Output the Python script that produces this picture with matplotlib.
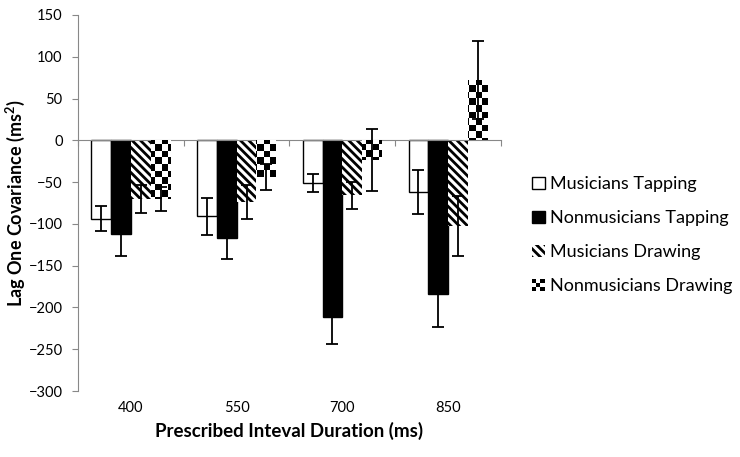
import numpy as np
import matplotlib
matplotlib.use("Agg")
import matplotlib.pyplot as plt
from matplotlib.patches import Rectangle, Patch
from matplotlib.legend_handler import HandlerBase

# data
durations = ["400", "550", "700", "850"]
series = ["Musicians Tapping", "Nonmusicians Tapping",
          "Musicians Drawing", "Nonmusicians Drawing"]
mus_tap = [-94, -91, -51, -62]
nonmus_tap = [-112, -117, -211, -184]
mus_draw = [-70, -74, -66, -103]
nonmus_draw = [-70, -44, -24, 72]
mus_tap_err = [15, 22, 11, 26]
nonmus_tap_err = [26, 25, 33, 39]
mus_draw_err = [17, 20, 16, 36]
nonmus_draw_err = [14, 16, 37, 47]

values = [mus_tap, nonmus_tap, mus_draw, nonmus_draw]
errors = [mus_tap_err, nonmus_tap_err, mus_draw_err, nonmus_draw_err]

plt.rcParams['font.family'] = ['Lato', 'DejaVu Sans']
plt.rcParams['hatch.linewidth'] = 2.0

fig = plt.figure(figsize=(7.4, 4.57), dpi=100)
ax = fig.add_axes([0.1054, 0.1444, 0.5716, 0.8228])

x = np.arange(len(durations))
width = 0.187
offsets = (np.arange(4) - 1.5) * width

face = ['white', 'black', 'white', 'white']
hatches = [None, None, '\\\\\\\\', None]
lw = [1.0, 1.0, 0.0, 0.0]

containers = []
for i in range(4):
    bc = ax.bar(x + offsets[i], values[i], width, facecolor=face[i],
                edgecolor='black', hatch=hatches[i], linewidth=lw[i], zorder=2)
    containers.append(bc)
    ax.errorbar(x + offsets[i], values[i], yerr=errors[i], fmt='none',
                ecolor='black', elinewidth=1.3, capsize=4, capthick=1.3, zorder=4)

# checkerboard fill for the last series
ny, nx = 58, 66
checker = (np.indices((ny, nx)).sum(axis=0) % 2).astype(float)
for bar in containers[3]:
    im = ax.imshow(checker, extent=(0, 1, 0, 1), transform=ax.transAxes,
                   cmap='gray', interpolation='nearest', aspect='auto', zorder=3)
    im.set_clip_path(bar)

ax.set_xlim(-0.5, 3.5)
ax.set_ylim(-300, 150)
ax.set_yticks(np.arange(-300, 151, 50))

ax.spines['top'].set_visible(False)
ax.spines['right'].set_visible(False)
ax.spines['left'].set_color('#888888')
ax.spines['bottom'].set_position(('data', 0))
ax.spines['bottom'].set_color('#888888')
ax.tick_params(axis='y', length=4, color='#888888', labelsize=10.5, pad=7)
ax.set_xticks(np.arange(-0.5, 3.6, 1.0))
ax.tick_params(axis='x', length=4, color='#888888', labelbottom=False)

sec = ax.secondary_xaxis(0)
sec.set_xticks(x)
sec.set_xticklabels(durations)
sec.tick_params(length=0, labelsize=10.5, pad=7)
sec.spines['bottom'].set_visible(False)
sec.set_xlabel('Prescribed Inteval Duration (ms)', fontsize=13.5, fontweight='bold', labelpad=5)

ax.set_ylabel('Lag One Covariance (ms$^\\mathregular{2}$)', fontsize=13, fontweight='bold', labelpad=1)


class CheckerHandler(HandlerBase):
    def create_artists(self, legend, orig_handle, xdescent, ydescent,
                       width, height, fontsize, trans):
        arts = []
        s = height / 3.0
        x0 = width - height
        for r in range(3):
            for c in range(3):
                if (r + c) % 2 == 0:
                    arts.append(Rectangle((x0 - xdescent + c * s, -ydescent + r * s), s, s,
                                          facecolor='black', edgecolor='none',
                                          transform=trans))
        return arts


handles = [Patch(facecolor='white', edgecolor='black'),
           Patch(facecolor='black', edgecolor='black'),
           Patch(facecolor='white', edgecolor='black', linewidth=0, hatch='\\\\\\\\'),
           Patch(facecolor='white', edgecolor='none')]
leg = fig.legend(handles, series, loc='center left', bbox_to_anchor=(0.697, 0.485),
                 frameon=False, fontsize=13, handlelength=0.7, handleheight=0.7,
                 handletextpad=0.3, labelspacing=1.0,
                 handler_map={handles[3]: CheckerHandler()})

fig.savefig('out.png', dpi=100)
